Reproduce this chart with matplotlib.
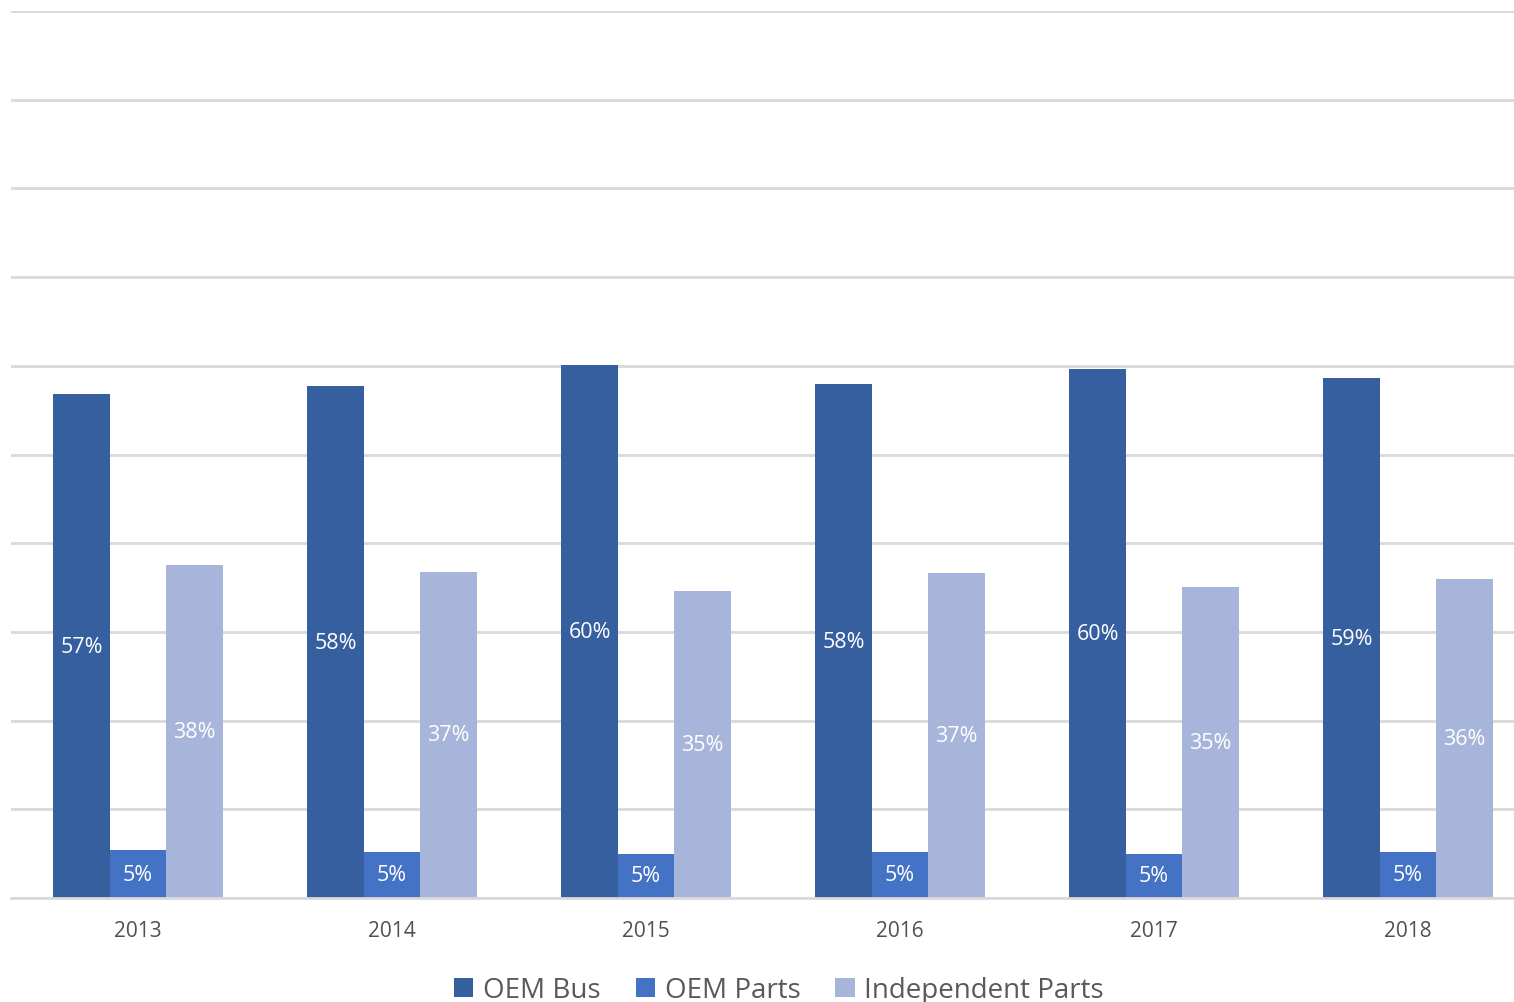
import numpy as np
import matplotlib.pyplot as plt

years = ["2013", "2014", "2015", "2016", "2017", "2018"]
oem_bus = [56.8, 57.7, 60.1, 57.9, 59.6, 58.6]
oem_parts = [5.4, 5.2, 5.0, 5.2, 5.0, 5.2]
independent = [37.5, 36.8, 34.6, 36.6, 35.1, 36.0]

bus_labels = ["57%", "58%", "60%", "58%", "60%", "59%"]
parts_labels = ["5%", "5%", "5%", "5%", "5%", "5%"]
indep_labels = ["38%", "37%", "35%", "37%", "35%", "36%"]

series = [
    ("OEM Bus", oem_bus, bus_labels, "#365F9F"),
    ("OEM Parts", oem_parts, parts_labels, "#4472C4"),
    ("Independent Parts", independent, indep_labels, "#A8B5DA"),
]

plt.rcParams['font.family'] = ['Open Sans', 'DejaVu Sans']

fig = plt.figure(figsize=(15.14, 10.03), dpi=100)
W, H = 1514, 1003
# axes extends past the right edge, like the cropped original
ax = fig.add_axes([11 / W, (H - 899) / H, 1524 / W, 887 / H])

x = np.arange(len(years))
width = 0.222
for i, (name, vals, labs, color) in enumerate(series):
    bars = ax.bar(x + (i - 1) * width, vals, width, color=color, label=name, zorder=3)
    ax.bar_label(bars, labels=labs, label_type='center', color='white', fontsize=15.5)

ax.set_xlim(-0.5, len(years) - 0.5)
ax.set_ylim(0, 100)
ax.set_yticks(np.arange(0, 101, 10))
ax.set_yticklabels([])
ax.tick_params(axis='y', length=0)
ax.set_xticks(x)
ax.set_xticklabels(years)
ax.tick_params(axis='x', length=0, labelsize=15, labelcolor='#505050', pad=16)
ax.grid(axis='y', color='#D9D9D9', linewidth=2, zorder=0)
for s in ['left', 'right', 'top']:
    ax.spines[s].set_visible(False)
ax.spines['bottom'].set_color('#D9D9D9')
ax.spines['bottom'].set_linewidth(2)
ax.spines['bottom'].set_zorder(4)

fig.legend(loc='center', bbox_to_anchor=(779 / W, 1 - 991 / H), ncol=3, frameon=False,
           fontsize=20, labelcolor='#595959', handlelength=0.7, handleheight=0.7,
           handletextpad=0.35, columnspacing=1.25)

fig.savefig("out.png", dpi=100)
